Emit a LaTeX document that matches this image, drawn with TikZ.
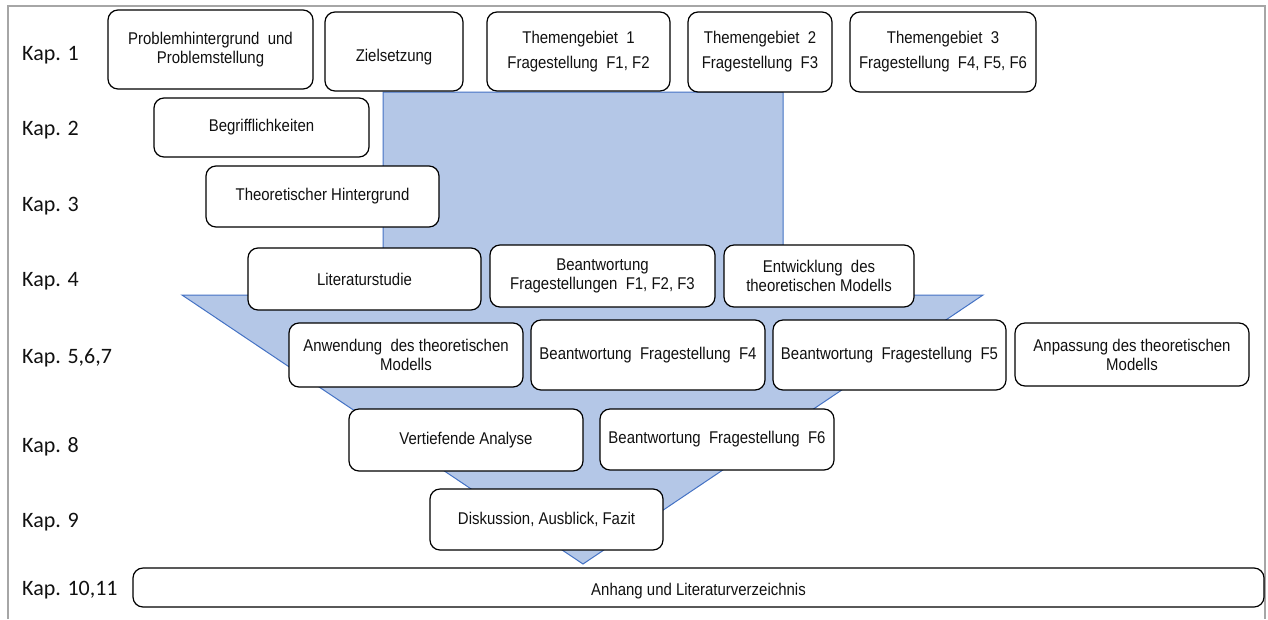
\documentclass[tikz,border=0pt]{standalone}
\usepackage{fontspec}
\newfontfamily\boxfont[FakeStretch=0.88]{Liberation Sans}
\newfontfamily\kapfont{Carlito}
\definecolor{arrowfillc}{HTML}{B4C7E7}
\definecolor{arrowdrawc}{HTML}{4472C4}
\definecolor{framec}{HTML}{A6A6A6}
\definecolor{textc}{HTML}{111111}
\tikzset{
  chbox/.style={draw=black, fill=white, line width=1.2pt, rounded corners=10pt,
    align=center, inner sep=2pt, text=textc,
    font=\boxfont\fontsize{17}{19}\selectfont},
  widebox/.style={chbox, font=\boxfont\fontsize{17}{25}\selectfont},
  kaplabel/.style={anchor=west, inner sep=0pt, text=textc,
    font=\kapfont\fontsize{22}{24}\selectfont},
  flowarrow/.style={fill=arrowfillc, draw=arrowdrawc, line width=1pt}
}
\begin{document}
\begin{tikzpicture}[x=1pt,y=-1pt]
\useasboundingbox (0,0) rectangle (1268,619);
% frame
\draw[framec, line width=2pt] (8,619) -- (8,6) -- (1265,6) -- (1265,619);
% big arrow
\draw[flowarrow] (383,92) -- (783,92) -- (783,295) -- (983,295) -- (583,564)
  -- (182,295) -- (383,295) -- cycle;
% chapter labels
\node[kaplabel] (k1) at (22,55) {Kap. 1};
\node[kaplabel] (k2) at (22,130) {Kap. 2};
\node[kaplabel] (k3) at (22,206) {Kap. 3};
\node[kaplabel] (k4) at (22,281) {Kap. 4};
\node[kaplabel] (k5) at (22,358) {Kap. 5,6,7};
\node[kaplabel] (k8) at (22,447) {Kap. 8};
\node[kaplabel] (k9) at (22,522) {Kap. 9};
\node[kaplabel] (k10) at (22,590) {Kap. 10,11};
% boxes
\node[chbox, minimum width=205pt, minimum height=79pt] (prob) at (210.5,49.5) {Problemhintergrund\ \ und\\Problemstellung};
\node[chbox, minimum width=138pt, minimum height=79pt, text height=24pt, text depth=3.6pt] (ziel) at (394,51.5) {Zielsetzung};
\node[widebox, minimum width=183pt, minimum height=79pt] (tg1) at (578.5,51.5) {Themengebiet\ \ 1\\Fragestellung\ \ F1, F2};
\node[widebox, minimum width=144pt, minimum height=80pt] (tg2) at (760,52) {Themengebiet\ \ 2\\Fragestellung\ \ F3};
\node[widebox, minimum width=186pt, minimum height=80pt] (tg3) at (943,52) {Themengebiet\ \ 3\\Fragestellung\ \ F4, F5, F6};
\node[chbox, minimum width=215pt, minimum height=59pt] (begr) at (261.5,127.5) {Begrifflichkeiten};
\node[chbox, minimum width=233pt, minimum height=61pt] (theo) at (322.5,196.5) {Theoretischer Hintergrund};
\node[chbox, minimum width=233pt, minimum height=62pt] (lit) at (364.5,279) {Literaturstudie};
\node[chbox, minimum width=225pt, minimum height=62pt] (bf123) at (602.5,276) {Beantwortung\\Fragestellungen\ \ F1, F2, F3};
\node[chbox, minimum width=190pt, minimum height=62pt] (entw) at (819,276) {Entwicklung\ \ des\\theoretischen Modells};
\node[chbox, minimum width=234pt, minimum height=64pt] (anw) at (406,355) {Anwendung\ \ des theoretischen\\Modells};
\node[chbox, minimum width=234pt, minimum height=70pt] (bf4) at (648,355) {Beantwortung\ \ Fragestellung\ \ F4};
\node[chbox, minimum width=233pt, minimum height=70pt] (bf5) at (889.5,355) {Beantwortung\ \ Fragestellung\ \ F5};
\node[chbox, minimum width=234pt, minimum height=63pt] (anp) at (1132,354.5) {Anpassung\ des theoretischen\\Modells};
\node[chbox, minimum width=234pt, minimum height=62pt] (vert) at (466,440) {Vertiefende Analyse};
\node[chbox, minimum width=234pt, minimum height=61pt] (bf6) at (717,439.5) {Beantwortung\ \ Fragestellung\ \ F6};
\node[chbox, minimum width=233pt, minimum height=61pt] (disk) at (546.5,519.5) {Diskussion,\ Ausblick,\ Fazit};
\node[chbox, minimum width=1131pt, minimum height=39pt, text height=20.4pt, text depth=3.6pt] (anh) at (698.5,587.5) {Anhang\ und Literaturverzeichnis};
\end{tikzpicture}
\end{document}
